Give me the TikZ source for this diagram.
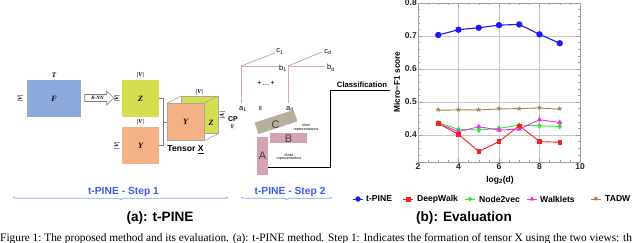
\documentclass[tikz,border=0pt]{standalone}
\usepackage{fontspec}
\setmainfont{Liberation Sans}
\newfontfamily\serifr{Liberation Serif}
\newfontfamily\djv{DejaVu Sans}
\usetikzlibrary{shapes.arrows,decorations.pathreplacing,plotmarks}
\newcommand\fsz[1]{\fontsize{#1}{#1}\selectfont}
\definecolor{fblue}{HTML}{8EA9DB}
\definecolor{zgreen}{HTML}{D5DE4E}
\definecolor{yorange}{HTML}{F4B183}
\definecolor{stepblue}{HTML}{3F5BF0}
\definecolor{mauve}{HTML}{D4A2B2}
\definecolor{plink}{HTML}{D9AABA}
\definecolor{ctan}{HTML}{B7AE9B}
\definecolor{ltan}{HTML}{B5A58C}
\definecolor{tadwc}{HTML}{A57C55}
\definecolor{gridc}{HTML}{C8C8C8}
\definecolor{framec}{HTML}{A0A0A0}
\definecolor{tpinec}{HTML}{1A1AF5}
\definecolor{dwc}{HTML}{F52020}
\definecolor{n2vc}{HTML}{2EE82E}
\definecolor{wkc}{HTML}{F030F0}
\tikzset{
  mbox/.style={inner sep=0pt, minimum width=37pt, minimum height=37pt},
  matl/.style={font=\serifr\bfseries\itshape\fsz{8}},
  diml/.style={font=\serifr\bfseries\itshape\fsz{6}, inner sep=0pt},
  bracketl/.style={draw=gray, line width=0.6pt},
  cubel/.style={draw=gray!70, line width=0.5pt},
  letl/.style={font=\fsz{11}, text=black!75},
  tinyl/.style={font=\fsz{3.6}, align=center, inner sep=0pt},
  vecl/.style={font=\fsz{7.5}, inner sep=0pt},
  pinkl/.style={draw=plink, line width=0.9pt},
  tanl/.style={draw=ltan, line width=0.7pt},
  stepl/.style={font=\bfseries\fsz{10.3}, text=stepblue},
  bracel/.style={draw=stepblue!60, line width=0.8pt, decorate, decoration={brace, amplitude=2.5pt}},
  titlel/.style={font=\bfseries\fsz{13.6}},
  tickl/.style={font=\bfseries\fsz{8.5}, text=black!85, inner sep=1pt},
  legl/.style={font=\bfseries\fsz{8.6}, anchor=west, inner sep=0pt},
  starmark/.style={mark=text, text mark={\textcolor{tadwc}{\djv\fsz{7.5}★}}},
}
\begin{document}
\begin{tikzpicture}[x=1pt,y=-1pt]
\useasboundingbox (0,0) rectangle (640,243);
% ---------- Step 1 ----------
\node[mbox, fill=fblue, minimum width=54pt] (F) at (54,98.5) {};
\node[matl] at (F) {F};
\node[matl, font=\serifr\bfseries\itshape\fsz{7}] (T) at (54,75.5) {T};
\node[diml, rotate=90] (fv) at (20.5,98.5) {|V|};
\node[single arrow, draw=gray, fill=white, line width=0.6pt, minimum height=29pt, single arrow head extend=3.5pt, inner sep=1.6pt, font=\serifr\bfseries\itshape\fsz{5}] (knn) at (97.5,98) {K-NN};
\node[mbox, fill=zgreen] (Z) at (140.5,98.5) {};
\node[matl] at (Z) {Z};
\node[diml] (zv1) at (140.5,75) {|V|};
\node[diml, rotate=90] (zv2) at (117,98.5) {|V|};
\node[mbox, fill=yorange] (Y) at (140.5,145.75) {};
\node[matl] at (Y) {Y};
\node[diml] (yv1) at (140.5,122.5) {|V|};
\node[diml, rotate=90] (yv2) at (117,145.75) {|V|};
% tensor
\node[mbox, fill=zgreen, draw=gray!70, line width=0.5pt] (Zb) at (199.5,115) {};
\node[mbox, fill=yorange, draw=gray!70, line width=0.5pt] (Yf) at (185.5,122) {};
\draw[cubel] (Yf.north west) -- (Zb.north west);
\draw[cubel] (Yf.north east) -- (Zb.north east);
\draw[cubel] (Yf.south east) -- (Zb.south east);
\node[matl] at (Yf) {Y};
\node[matl] at (211,123) {Z};
\node[diml] (tv) at (199.5,92) {|V|};
\node[diml, rotate=90] (ta) at (222.5,115) {|A|};
\node[font=\bfseries\fsz{8.6}, inner sep=0pt] (tx) at (185.5,150) {Tensor \underline{X}};
\draw[bracketl] (Z.east) -- ++(4,0) |- (Y.east);
\draw[bracketl] (Yf.west) -- ++(-4,0);
\node[stepl] (s1) at (123.5,192) {t-PINE - Step 1};
\draw[bracel] (228,197) -- (13,197);
% ---------- Step 2 ----------
\node[font=\bfseries\fsz{7}, inner sep=0pt] (cp) at (233,119.5) {CP};
\node[font=\djv\fsz{7}, rotate=90, inner sep=0pt] (cpa) at (233,127) {≈};
\coordinate (o1) at (241,66);
\coordinate (o2) at (288,66);
\node[vecl] (c1) at (280,51.5) {c\textsubscript{1}};
\node[vecl] (b1) at (283,68) {b\textsubscript{1}};
\node[vecl] (a1) at (243,109) {a\textsubscript{1}};
\node[vecl] (cd) at (328,52) {c\textsubscript{d}};
\node[vecl] (bd) at (331,68) {b\textsubscript{d}};
\node[vecl] (ad) at (290,109) {a\textsubscript{d}};
\node[vecl] (pl) at (266,83) {+\,...\,+};
\node[font=\djv\fsz{7}, rotate=90, inner sep=0pt] (ap) at (261,109) {≈};
\draw[tanl] (o1) -- (275,53);
\draw[pinkl] (o1) -- (279,66);
\draw[pinkl] (o1) -- (241,103);
\draw[tanl] (o2) -- (322,52);
\draw[pinkl] (o2) -- (325,66);
\draw[pinkl] (o2) -- (288,103);
\node[fill=ctan, inner sep=0pt, minimum width=41pt, minimum height=12pt, rotate=18] (C) at (276,122) {};
\node[letl] at (275.5,124.5) {C};
\node[fill=mauve, inner sep=0pt, minimum width=37pt, minimum height=10.5pt] (B) at (288.5,138.25) {};
\node[letl] at (B) {B};
\node[fill=mauve, inner sep=0pt, minimum width=11pt, minimum height=38pt] (A) at (262.5,156) {};
\node[letl] at (A) {A};
\node[tinyl] (vr) at (306,127.5) {View\\representations};
\node[tinyl] (nr) at (289,157) {Node\\representations};
\coordinate (clsend) at (390,90);
\draw[line width=0.8pt] ([yshift=-11pt]A.east) -| (330,90) -- (clsend);
\node[font=\bfseries\fsz{7.7}, inner sep=0pt] (cls) at (362,85) {Classification};
\node[stepl] (s2) at (290,192) {t-PINE - Step 2};
\draw[bracel] (332,197) -- (241,197);
% ---------- titles ----------
\node[titlel] (ta1) at (160,218) {(a): t-PINE};
\node[titlel] (tb1) at (464,218) {(b): Evaluation};
\node[font=\serifr\fsz{11.35}, anchor=base west, inner sep=0pt] (cap) at (0,241.6) {Figure 1:\ The proposed method and its evaluation. (a): t-PINE method. Step 1: Indicates the formation of tensor X using the two views: th};
% ---------- plot ----------
\node[font=\bfseries\fsz{8.3}, rotate=90, inner sep=0pt] (yl) at (397,82) {Micro−F1 score};
\node[font=\bfseries\fsz{8.5}, inner sep=0pt] (xl) at (500,180) {log\textsubscript{2}(d)};
\begin{scope}[shift={(377.5,267)}, x=20.25pt, y=330pt]
  \foreach \d in {4,6,8} \draw[gridc, line width=0.6pt] (\d,0.318) -- (\d,0.8);
  \foreach \v in {0.4,0.5,0.6,0.7} \draw[gridc, line width=0.6pt] (2,\v) -- (10,\v);
  \draw[framec, line width=0.6pt] (2,0.318) rectangle (10,0.8);
  \foreach \d in {2.5,3,...,9.5} {
    \draw[framec] (\d,0.318) -- ++(0,2pt);
    \draw[framec] (\d,0.8) -- ++(0,-2pt);
  }
  \foreach \d in {4,6,8} {
    \draw[framec] (\d,0.318) -- ++(0,4pt);
    \draw[framec] (\d,0.8) -- ++(0,-4pt);
  }
  \foreach \v in {0.34,0.36,...,0.79} {
    \draw[framec] (2,\v) -- ++(2pt,0);
    \draw[framec] (10,\v) -- ++(-2pt,0);
  }
  \foreach \v in {0.4,0.5,0.6,0.7} {
    \draw[framec] (2,\v) -- ++(4pt,0);
    \draw[framec] (10,\v) -- ++(-4pt,0);
  }
  \foreach \v in {0.4,0.5,0.6,0.7,0.8} \node[tickl, anchor=east] at (2,\v) {\v};
  \foreach \d in {2,4,6,8,10} \node[tickl, anchor=north] at (\d,0.318) {\d};
  \draw[tadwc, line width=0.9pt, starmark]
    plot coordinates {(3,0.475) (4,0.476) (5,0.476) (6,0.479) (7,0.480) (8,0.482) (9,0.478)};
  \draw[n2vc, line width=0.9pt, mark=diamond*, mark size=2.2pt, mark options={fill=n2vc}]
    plot coordinates {(3,0.437) (4,0.417) (5,0.415) (6,0.420) (7,0.430) (8,0.428) (9,0.426)};
  \draw[wkc, line width=0.9pt, mark=triangle*, mark size=2.3pt, mark options={fill=wkc}]
    plot coordinates {(3,0.435) (4,0.410) (5,0.425) (6,0.415) (7,0.418) (8,0.446) (9,0.438)};
  \draw[dwc, line width=0.9pt, mark=square*, mark size=1.7pt, mark options={fill=dwc}]
    plot coordinates {(3,0.435) (4,0.402) (5,0.350) (6,0.380) (7,0.428) (8,0.380) (9,0.378)};
  \draw[tpinec, line width=1.1pt, mark=*, mark size=2.6pt, mark options={fill=tpinec}]
    plot coordinates {(3,0.703) (4,0.719) (5,0.725) (6,0.733) (7,0.735) (8,0.705) (9,0.678)};
\end{scope}
% legend
\draw[tpinec, line width=1pt] (353,199) -- (363,199);
\path[mark=*, mark size=2.4pt, mark options={tpinec, fill=tpinec}] plot coordinates {(358,199)};
\node[legl] (l1) at (366,199) {t-PINE};
\draw[dwc, line width=1pt] (403,199) -- (413,199);
\path[mark=square*, mark size=1.7pt, mark options={dwc, fill=dwc}] plot coordinates {(408,199)};
\node[legl] (l2) at (417,199) {DeepWalk};
\draw[n2vc, line width=1pt] (465,199) -- (475,199);
\path[mark=diamond*, mark size=2.2pt, mark options={n2vc, fill=n2vc}] plot coordinates {(470,199)};
\node[legl] (l3) at (479,199) {Node2vec};
\draw[wkc, line width=1pt] (527,199) -- (537,199);
\path[mark=triangle*, mark size=2.3pt, mark options={wkc, fill=wkc}] plot coordinates {(532,199)};
\node[legl] (l4) at (540,199) {Walklets};
\draw[tadwc, line width=1pt] (591,199) -- (601,199);
\path[starmark] plot coordinates {(596,199)};
\node[legl] (l5) at (605,199) {TADW};
\end{tikzpicture}
\end{document}
